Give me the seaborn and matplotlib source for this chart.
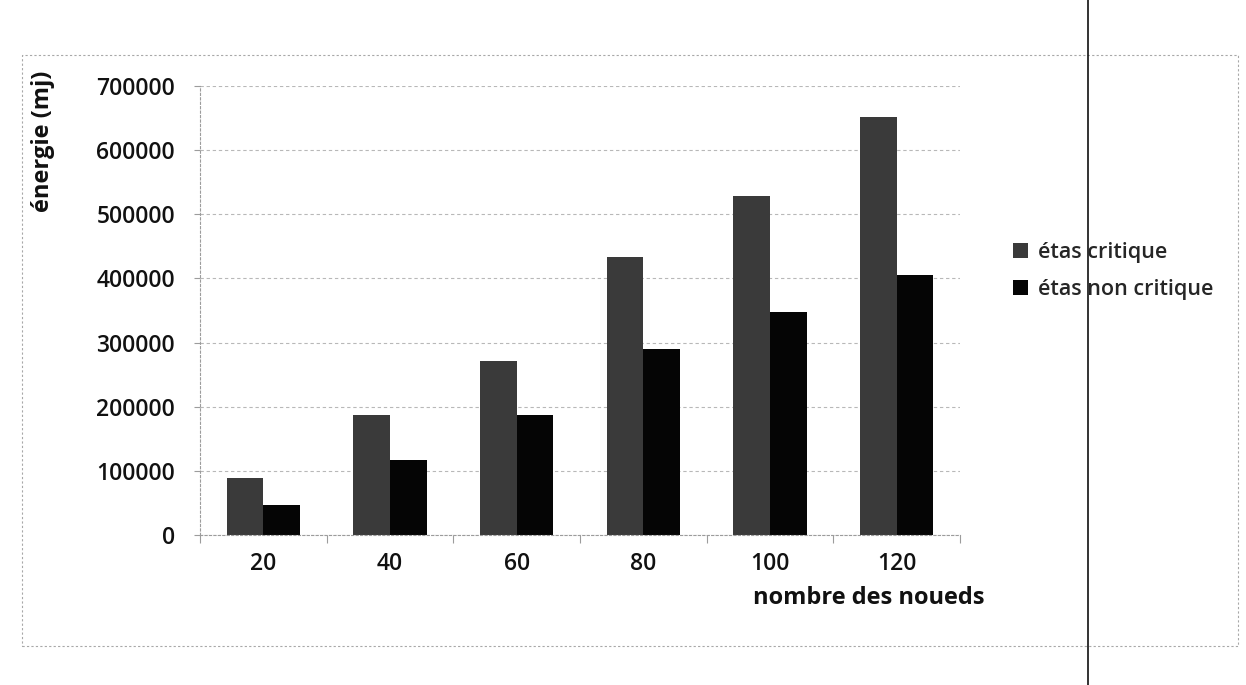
import matplotlib
matplotlib.use("Agg")
import matplotlib.pyplot as plt
from matplotlib.lines import Line2D
from matplotlib.patches import Rectangle
import pandas as pd
import seaborn as sns

# --- data ---
noeuds = ["20", "40", "60", "80", "100", "120"]
etats_critique = [89000, 187000, 271000, 434000, 528000, 652000]
etats_non_critique = [47000, 117000, 187000, 290000, 348000, 406000]
series_names = ["étas critique", "étas non critique"]
y_ticks = [0, 100000, 200000, 300000, 400000, 500000, 600000, 700000]

df = pd.DataFrame({
    "noeuds": noeuds * 2,
    "energie": etats_critique + etats_non_critique,
    "serie": [series_names[0]] * len(noeuds) + [series_names[1]] * len(noeuds),
})

sns.set_theme(style="white")
plt.rcParams["font.family"] = ["Open Sans", "DejaVu Sans"]

fig = plt.figure(figsize=(12.46, 6.85), dpi=100)
ax = fig.add_axes([0.1605, 0.219, 0.61, 0.6555])

sns.barplot(
    data=df, x="noeuds", y="energie", hue="serie",
    order=noeuds, hue_order=series_names,
    palette=["#3a3a3a", "#050505"], saturation=1,
    width=0.58, errorbar=None, edgecolor="none", ax=ax,
)

ax.set_xlim(-0.5, len(noeuds) - 0.5)
ax.set_ylim(0, y_ticks[-1])
ax.set_yticks(y_ticks)
ax.set_yticklabels([str(v) for v in y_ticks])
ax.set_axisbelow(True)
ax.yaxis.grid(True, color="#b8b8b8", lw=0.8, ls=(0, (3, 2.5)))
ax.xaxis.grid(False)

for side in ("top", "right"):
    ax.spines[side].set_visible(False)
for side in ("left", "bottom"):
    ax.spines[side].set_color("#9c9c9c")
    ax.spines[side].set_linewidth(0.8)
    ax.spines[side].set_linestyle((0, (2, 2)))

tick_font = dict(fontsize=16.5, fontweight="semibold", color="#111111")
ax.tick_params(axis="y", which="major", length=4, width=0.8, color="#9c9c9c",
               direction="out", pad=14, left=True)
ax.tick_params(axis="x", which="major", length=0, pad=12)
ax.set_xticks([i - 0.5 for i in range(len(noeuds) + 1)], minor=True)
ax.tick_params(axis="x", which="minor", length=6, width=0.8, color="#9c9c9c",
               direction="out", bottom=True)
for lab in ax.get_xticklabels() + ax.get_yticklabels():
    lab.set(**tick_font)

ax.set_xlabel("nombre des noueds", fontsize=17, fontweight="bold", color="#111111")
ax.xaxis.set_label_coords(0.88, -0.114)
ax.set_ylabel("énergie (mj)", fontsize=17, fontweight="bold", color="#111111")
ax.yaxis.set_label_coords(-0.191, 0.877)

handles, labels = ax.get_legend_handles_labels()
ax.get_legend().remove()
fig.legend(
    handles, labels, loc="center left", bbox_to_anchor=(0.806, 0.604),
    frameon=False, handlelength=0.7, handleheight=0.7, handletextpad=0.45,
    labelspacing=0.75, borderaxespad=0,
    prop=dict(size=15.5, weight="semibold"),
)

# chart frame and page edge line
fig.add_artist(Rectangle((0.0177, 0.057), 0.9759, 0.863, transform=fig.transFigure,
                         fill=False, ec="#a8a8a8", lw=0.8, ls=(0, (2, 2))))
fig.add_artist(Line2D([1088 / 1246, 1088 / 1246], [0, 1], transform=fig.transFigure,
                      color="#111111", lw=1.2))

fig.savefig("out.png", dpi=100, facecolor="white")
